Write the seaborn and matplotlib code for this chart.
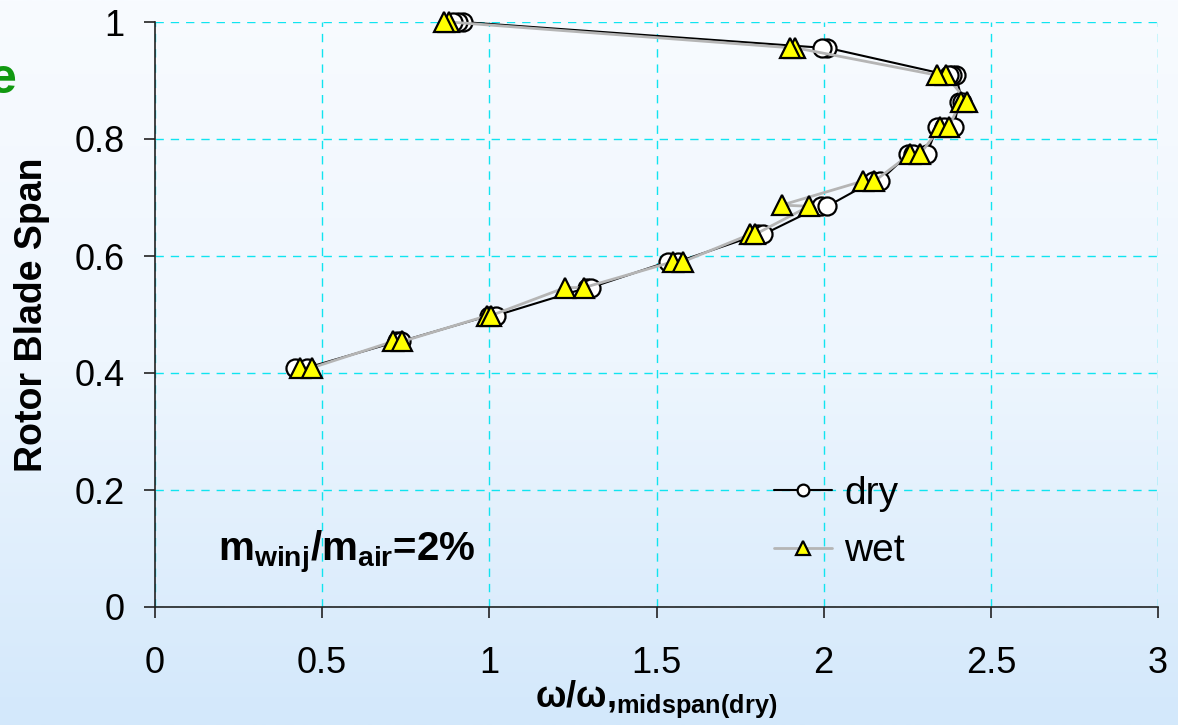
import numpy as np
import pandas as pd
import matplotlib
matplotlib.use("Agg")
import matplotlib.pyplot as plt
from matplotlib.colors import LinearSegmentedColormap
from matplotlib.ticker import FuncFormatter
import seaborn as sns

# ---------------- data ----------------
dry_span = [0.409, 0.409, 0.454, 0.454, 0.498, 0.498, 0.546, 0.546, 0.590, 0.590,
            0.637, 0.637, 0.685, 0.685, 0.728, 0.728, 0.774, 0.774, 0.774,
            0.820, 0.820, 0.820, 0.864, 0.864, 0.909, 0.909, 0.909,
            0.956, 0.956, 1.000, 1.000, 1.000]
dry_omega = [0.420, 0.455, 0.725, 0.735, 0.999, 1.019, 1.293, 1.303, 1.533, 1.563,
             1.805, 1.820, 1.991, 2.011, 2.147, 2.167, 2.253, 2.268, 2.308,
             2.339, 2.359, 2.389, 2.405, 2.415, 2.395, 2.385, 2.375,
             2.010, 1.995, 0.920, 0.905, 0.890]

wet_span = [0.409, 0.409, 0.454, 0.454, 0.498, 0.498, 0.546, 0.546, 0.590, 0.590,
            0.637, 0.637, 0.685, 0.687, 0.728, 0.728, 0.774, 0.774,
            0.820, 0.820, 0.864, 0.864, 0.909, 0.909, 0.956, 0.956, 1.000, 1.000]
wet_omega = [0.435, 0.470, 0.712, 0.740, 0.994, 1.004, 1.227, 1.283, 1.548, 1.578,
             1.780, 1.795, 1.956, 1.875, 2.117, 2.152, 2.258, 2.288,
             2.349, 2.374, 2.410, 2.430, 2.365, 2.340, 1.915, 1.900, 0.880, 0.865]

series_labels = ["dry", "wet"]
x_ticks = [0, 0.5, 1, 1.5, 2, 2.5, 3]
y_ticks = [0, 0.2, 0.4, 0.6, 0.8, 1.0]

# ---------------- style ----------------
sns.set_style("ticks")
plt.rcParams["font.family"] = ["Liberation Sans", "DejaVu Sans"]
plt.rcParams["text.color"] = "black"
plt.rcParams["axes.labelcolor"] = "black"
plt.rcParams["mathtext.fontset"] = "custom"
plt.rcParams["mathtext.rm"] = "Liberation Sans"
plt.rcParams["mathtext.bf"] = "Liberation Sans:bold"
plt.rcParams["mathtext.it"] = "Liberation Sans:italic"

W, H = 1178, 725
fig = plt.figure(figsize=(W / 100, H / 100), dpi=100)

# background gradient
bg = fig.add_axes([0, 0, 1, 1], zorder=-10)
grad = np.linspace(0, 1, 256)[:, None]
cmap = LinearSegmentedColormap.from_list("bg", ["#f8fbff", "#eef6fe", "#d3e8fb"])
bg.imshow(grad, aspect="auto", cmap=cmap, extent=[0, 1, 0, 1], origin="upper")
bg.axis("off")

ax = fig.add_axes([155 / W, 1 - 607 / H, (1158 - 155) / W, (607 - 22) / H])
ax.set_facecolor("none")

dry_df = pd.DataFrame({"omega": dry_omega, "span": dry_span})
wet_df = pd.DataFrame({"omega": wet_omega, "span": wet_span})

sns.lineplot(data=dry_df, x="omega", y="span", sort=False, estimator=None,
             color="black", linewidth=1.5, marker="o", markersize=13,
             markerfacecolor="white", markeredgecolor="black", markeredgewidth=1.6,
             label=series_labels[0], ax=ax, clip_on=False, zorder=3)
sns.lineplot(data=wet_df, x="omega", y="span", sort=False, estimator=None,
             color="#b5b5b5", linewidth=2.0, marker="^", markersize=15,
             markerfacecolor="#ffff00", markeredgecolor="black", markeredgewidth=1.6,
             label=series_labels[1], ax=ax, clip_on=False, zorder=4)

ax.set_xlim(0, 3)
ax.set_ylim(0, 1)
ax.set_xticks(x_ticks)
ax.set_yticks(y_ticks)
fmt = FuncFormatter(lambda v, p: f"{v:g}")
ax.xaxis.set_major_formatter(fmt)
ax.yaxis.set_major_formatter(fmt)

ax.grid(True, color="#10e4f0", linestyle=(0, (6, 5)), linewidth=1.0, zorder=0)
ax.set_axisbelow(True)
for s in ["top", "right"]:
    ax.spines[s].set_visible(False)
for s in ["left", "bottom"]:
    ax.spines[s].set_color("#222222")
    ax.spines[s].set_linewidth(1.2)
ax.tick_params(axis="both", direction="out", length=8, width=1.2, color="#222222",
               labelsize=26, labelcolor="black")
ax.tick_params(axis="y", pad=14)
ax.tick_params(axis="x", pad=20)

ax.set_xlabel(r"ω/ω,$_{\mathbf{midspan(dry)}}$", fontsize=26, fontweight="bold",
              color="black")
ax.xaxis.set_label_coords(0.5, -0.122)
ax.set_ylabel("Rotor Blade Span", fontsize=27, fontweight="bold", color="black")
ax.yaxis.set_label_coords((50 - 155) / 1003, 0.5)

ax.text((218 - 155) / 1003, (607 - 553) / 585,
        r"m$_{\mathbf{winj}}$/m$_{\mathbf{air}}$=2%",
        fontsize=29, fontweight="bold", va="center", ha="left", color="black",
        transform=ax.transAxes)

fig.text(17 / W, 1 - 80 / H, "e", color="#119911", fontsize=36, fontweight="bold",
         ha="right", va="center")

ax.legend(loc="upper left", bbox_to_anchor=(774 / W, 1 - 476 / H),
          bbox_transform=fig.transFigure, frameon=False, fontsize=28,
          handlelength=1.5, handletextpad=0.3, labelspacing=0.55,
          markerscale=0.65, borderpad=0, borderaxespad=0)

fig.savefig("out.png", dpi=100)
